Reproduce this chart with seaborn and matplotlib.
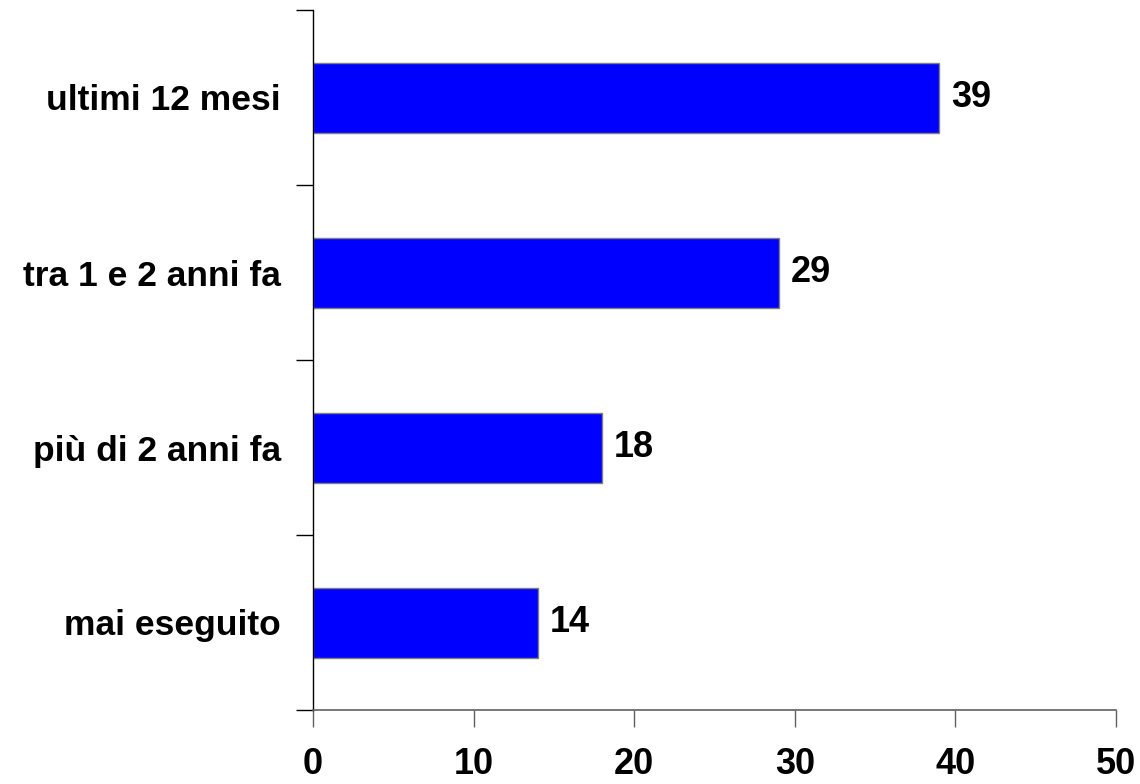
import matplotlib
matplotlib.use("Agg")
import matplotlib.pyplot as plt
import seaborn as sns
import pandas as pd
import numpy as np

categories = ["ultimi 12 mesi", "tra 1 e 2 anni fa", "più di 2 anni fa", "mai eseguito"]
values = [39, 29, 18, 14]
xticks = [0, 10, 20, 30, 40, 50]

sns.set_style("white")
plt.rcParams['font.family'] = ['Liberation Sans', 'DejaVu Sans']
plt.rcParams['text.color'] = 'black'
plt.rcParams['xtick.color'] = 'black'
plt.rcParams['ytick.color'] = 'black'

df = pd.DataFrame({"categoria": categories, "valore": values})

fig = plt.figure(figsize=(11.4, 7.84), dpi=100)
ax = fig.add_axes([313/1140, 1 - 710/784, (1116-313)/1140, (710-10)/784])

sns.barplot(data=df, y="categoria", x="valore", orient="h", color="#0000FF",
            saturation=1, width=0.4, edgecolor="#808080", linewidth=1, ax=ax)

ax.set_xlim(0, 50)
ax.set_ylim(len(categories) - 0.5, -0.5)
ax.set_xticks(xticks)
ax.set_xticklabels([str(t) for t in xticks], fontsize=26, fontweight="bold", color="black")
ax.set_yticks(np.arange(len(categories)))
ax.set_yticklabels(categories, fontsize=25.5, fontweight="bold", color="black")
ax.set_yticks(np.arange(len(categories) + 1) - 0.5, minor=True)
ax.tick_params(axis="y", which="both", left=True)
ax.tick_params(axis="x", which="both", bottom=True)
ax.tick_params(axis="y", which="major", length=0, pad=23)
ax.tick_params(axis="y", which="minor", length=12, width=1, color="black", direction="out")
ax.tick_params(axis="x", which="major", length=12, width=1, color="#606060", direction="out", pad=15)
ax.set_xlabel("")
ax.set_ylabel("")

for s in ["top", "right"]:
    ax.spines[s].set_visible(False)
ax.spines["left"].set_color("black")
ax.spines["left"].set_linewidth(1)
ax.spines["bottom"].set_color("#606060")
ax.spines["bottom"].set_linewidth(1.2)

for i, v in enumerate(values):
    ax.annotate(str(v), xy=(v, i), xytext=(12, 0), textcoords="offset pixels",
                ha="left", va="center", fontsize=26, fontweight="bold", color="black")

fig.savefig("out.png", dpi=100)
